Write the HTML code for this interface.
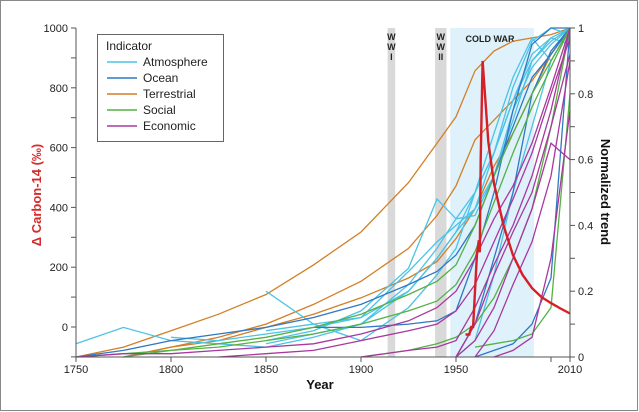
<!DOCTYPE html>
<html><head><meta charset="utf-8"><style>
body{margin:0;background:#fff}
svg{display:block;font-family:"Liberation Sans",sans-serif}
</style></head><body>
<svg id="c" width="639" height="412">
<rect x="0.5" y="0.5" width="637" height="410" fill="#fff" stroke="#888"/>
<g id="bands"></g><g id="lines"></g><g id="axes"></g>
<g>
<rect x="97.5" y="34.5" width="126" height="107" fill="#fff" stroke="#666"/>
<text x="106" y="50" font-size="12" fill="#222">Indicator</text>
</g>
<g id="leg"></g>
<text transform="translate(41,195) rotate(-90)" text-anchor="middle" font-size="13" font-weight="bold" fill="#d42a2a">Δ Carbon-14 (‰)</text>
<text transform="translate(601,192) rotate(90)" text-anchor="middle" font-size="13" font-weight="bold" fill="#111">Normalized trend</text>
<text x="320" y="389" text-anchor="middle" font-size="13" font-weight="bold" fill="#111">Year</text>
</svg>
<script>
const years=[1750,1775,1800,1825,1850,1875,1900,1925,1940,1950,1960,1970,1980,1990,2000,2010];
const seriesCat=["Terrestrial","Terrestrial","Terrestrial","Atmosphere","Atmosphere","Atmosphere","Atmosphere","Atmosphere","Atmosphere","Atmosphere","Ocean","Ocean","Ocean","Ocean","Social","Social","Social","Social","Economic","Economic","Economic","Economic","Economic","Economic","Economic"];
const seriesVals=[
[0,0.03,0.08,0.13,0.19,0.28,0.38,0.53,0.65,0.73,0.87,0.93,0.96,0.97,0.98,1],
[null,0,0.03,0.06,0.1,0.16,0.23,0.33,0.43,0.52,0.66,0.72,0.78,0.84,0.92,1],
[null,0,0.03,0.05,0.09,0.13,0.18,0.24,0.29,0.36,0.45,0.58,0.68,0.8,0.92,1],
[0.04,0.09,0.05,0.04,0.03,0.06,0.1,0.2,0.3,0.38,0.5,0.62,0.78,0.9,0.97,1],
[null,null,null,null,0.2,0.1,0.12,0.26,0.35,0.4,0.45,0.62,0.82,0.96,1,0.98],
[null,null,null,null,0.05,0.08,0.14,0.27,0.48,0.42,0.5,0.68,0.85,0.97,0.9,1],
[null,null,0.06,0.05,0.07,0.09,0.12,0.2,0.3,0.38,0.45,0.55,0.75,0.88,0.95,1],
[null,null,null,null,0.04,0.07,0.1,0.22,0.33,0.42,0.43,0.55,0.72,0.9,0.96,1],
[null,null,null,null,null,null,null,null,null,0.0,0.05,0.25,0.5,0.7,0.9,1],
[null,null,null,null,0.08,0.1,0.05,0.15,0.25,0.33,0.5,0.62,0.78,0.92,0.97,0.95],
[0,0.02,0.05,0.07,0.09,0.12,0.16,0.22,0.26,0.31,0.4,0.55,0.7,0.85,0.92,1],
[null,null,null,null,null,0.09,0.09,0.1,0.11,0.14,0.3,0.5,0.75,0.95,1,1],
[null,null,null,null,null,null,null,null,null,0,0.1,0.3,0.5,0.8,0.93,1],
[null,null,null,null,null,null,null,null,null,null,0,0.02,0.04,0.1,0.24,1],
[0,0.01,0.02,0.04,0.06,0.09,0.13,0.19,0.23,0.28,0.4,0.55,0.68,0.8,0.9,1],
[null,0,0.02,0.03,0.05,0.07,0.1,0.14,0.17,0.22,0.32,0.47,0.62,0.76,0.88,1],
[null,null,null,null,null,null,0,0.02,0.04,0.06,0.1,0.18,0.3,0.45,0.7,1],
[null,null,null,null,null,null,null,null,null,null,0.03,0.04,0.05,0.07,0.15,0.8],
[0,0.01,0.01,0.02,0.03,0.04,0.07,0.11,0.15,0.2,0.3,0.42,0.52,0.65,0.82,1],
[null,null,null,0,0.01,0.02,0.05,0.08,0.1,0.14,0.22,0.35,0.48,0.62,0.8,0.97],
[null,null,null,null,null,null,0,0.02,0.03,0.05,0.15,0.28,0.4,0.55,0.75,1],
[null,null,null,null,null,null,null,null,null,0,0.1,0.25,0.38,0.5,0.7,0.92],
[null,null,null,null,null,null,null,null,null,null,0,0.08,0.22,0.35,0.55,0.9],
[null,null,null,null,null,null,null,null,null,null,null,0,0.02,0.06,0.3,0.75],
[null,null,null,null,null,null,null,null,null,0,0.05,0.15,0.3,0.45,0.65,0.6]
];
const c14Years=[1955,1957,1958,1959,1961,1962,1962.5,1963,1964,1965,1967,1970,1975,1980,1985,1990,1995,2000,2005,2010];
const c14Vals=[-25,-25,0,0,240,290,250,560,890,800,620,480,340,240,175,130,100,80,62,45];
const xTicks=[1750,1800,1850,1900,1950,2000,2010];
const xLabels=["1750","1800","1850","1900","1950","","2010"];
const leftTicks=[-100,0,100,200,300,400,500,600,700,800,900,1000];
const rightTicks=[0,0.1,0.2,0.3,0.4,0.5,0.6,0.7,0.8,0.9,1];
const bandStart=[1914,1939,1947];const bandEnd=[1918,1945,1991];const bandNames=["ww1","ww2","cold-war"];
const colors={Atmosphere:"#4cc3e6",Ocean:"#2f78c4",Terrestrial:"#d27f26",Social:"#55b046",Economic:"#a8389e"};
const cats=["Atmosphere","Ocean","Terrestrial","Social","Economic"];
const X=y=>76+(y-1750)*494/260, YL=v=>327-v*0.299, YR=v=>357-v*329;
const NS="http://www.w3.org/2000/svg";
function mk(t,p,a){const e=document.createElementNS(NS,t);for(const k in a)e.setAttribute(k,a[k]);p.appendChild(e);return e;}
const B=document.getElementById('bands'),L=document.getElementById('lines'),A=document.getElementById('axes'),G=document.getElementById('leg');
bandStart.forEach((s,i)=>{const r=mk('rect',B,{x:X(s),y:28,width:X(bandEnd[i])-X(s),height:329,fill:i==2?"#dff1fb":"#d9d9d9"});

});
[["W","W","I"],["W","W","II"]].forEach((w,i)=>{w.forEach((ch,j)=>{const t=mk('text',B,{x:(X(bandStart[i])+X(bandEnd[i]))/2,y:40+j*10,'text-anchor':'middle','font-size':9,'font-weight':'bold',fill:'#222'});t.textContent=ch;

});});
const cw=mk('text',B,{x:490,y:42,'text-anchor':'middle','font-size':9,'font-weight':'bold',fill:'#222'});cw.textContent="COLD WAR";


seriesVals.forEach((s,i)=>{let d="";s.forEach((v,j)=>{if(v==null)return;d+=(d?"L":"M")+X(years[j]).toFixed(1)+","+YR(v).toFixed(1);});
const p=mk('path',L,{d:d,fill:'none',stroke:colors[seriesCat[i]],'stroke-width':1.3});

});
let d="";c14Years.forEach((y,j)=>{d+=(j?"L":"M")+X(y).toFixed(1)+","+YL(c14Vals[j]).toFixed(1);});
const rp=mk('path',L,{d:d,fill:'none',stroke:'#d61f26','stroke-width':2.4});


mk('path',A,{d:"M76,28V357H570V28",fill:'none',stroke:'#555','stroke-width':1});
xTicks.forEach((t,i)=>{mk('line',A,{x1:X(t),x2:X(t),y1:357,y2:362,stroke:'#555'});const tx=mk('text',A,{x:X(t),y:373,'text-anchor':'middle','font-size':11,fill:'#222'});tx.textContent=xLabels[i];

});
leftTicks.forEach(t=>{mk('line',A,{x1:71,x2:76,y1:YL(t),y2:YL(t),stroke:'#555'});if(t>=0&&t%200==0){const tx=mk('text',A,{x:68,y:YL(t)+4,'text-anchor':'end','font-size':11,fill:'#222'});tx.textContent=t;

}});
rightTicks.forEach((t,i)=>{mk('line',A,{x1:570,x2:575,y1:YR(t),y2:YR(t),stroke:'#555'});if(i%2==0){const tx=mk('text',A,{x:578,y:YR(t)+4,'font-size':11,fill:'#222'});tx.textContent=t;

}});
cats.forEach((c,i)=>{const y=62+i*16;mk('line',G,{x1:107,x2:137,y1:y,y2:y,stroke:colors[c],'stroke-width':1.5});const t=mk('text',G,{x:143,y:y+4,'font-size':12,fill:'#222'});t.textContent=c;

});
</script>
</body></html>
